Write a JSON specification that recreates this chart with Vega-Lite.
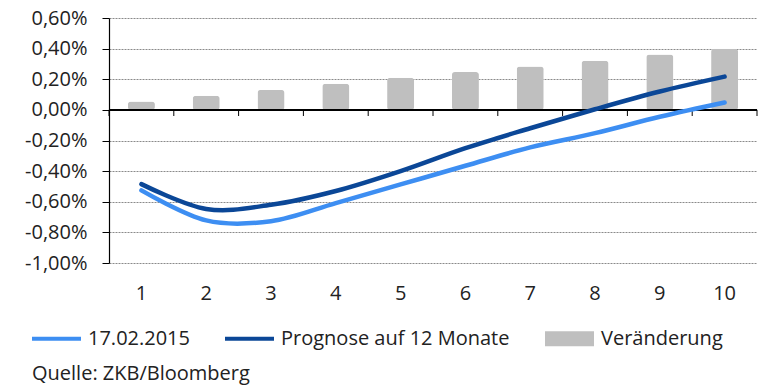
{
  "$schema": "https://vega.github.io/schema/vega-lite/v6.json",
  "width": 648,
  "height": 245,
  "autosize": {"type": "none"},
  "padding": {"left": 109, "top": 18, "right": 12, "bottom": 125},
  "background": "white",
  "title": {
    "text": "Quelle: ZKB/Bloomberg",
    "orient": "bottom",
    "anchor": "start",
    "frame": "group",
    "dx": -77,
    "offset": 15,
    "font": "Open Sans",
    "fontSize": 20,
    "fontWeight": "normal",
    "color": "#222222"
  },
  "data": {
    "values": [
      {"t": 1, "series": "17.02.2015", "value": -0.526},
      {"t": 2, "series": "17.02.2015", "value": -0.722},
      {"t": 3, "series": "17.02.2015", "value": -0.727},
      {"t": 4, "series": "17.02.2015", "value": -0.609},
      {"t": 5, "series": "17.02.2015", "value": -0.487},
      {"t": 6, "series": "17.02.2015", "value": -0.365},
      {"t": 7, "series": "17.02.2015", "value": -0.245},
      {"t": 8, "series": "17.02.2015", "value": -0.152},
      {"t": 9, "series": "17.02.2015", "value": -0.045},
      {"t": 10, "series": "17.02.2015", "value": 0.048},
      {"t": 1, "series": "Prognose auf 12 Monate", "value": -0.485},
      {"t": 2, "series": "Prognose auf 12 Monate", "value": -0.647},
      {"t": 3, "series": "Prognose auf 12 Monate", "value": -0.62},
      {"t": 4, "series": "Prognose auf 12 Monate", "value": -0.53},
      {"t": 5, "series": "Prognose auf 12 Monate", "value": -0.4},
      {"t": 6, "series": "Prognose auf 12 Monate", "value": -0.25},
      {"t": 7, "series": "Prognose auf 12 Monate", "value": -0.12},
      {"t": 8, "series": "Prognose auf 12 Monate", "value": 0.004},
      {"t": 9, "series": "Prognose auf 12 Monate", "value": 0.12},
      {"t": 10, "series": "Prognose auf 12 Monate", "value": 0.217},
      {"t": 1, "series": "Veränderung", "value": 0.055},
      {"t": 2, "series": "Veränderung", "value": 0.092},
      {"t": 3, "series": "Veränderung", "value": 0.13},
      {"t": 4, "series": "Veränderung", "value": 0.17},
      {"t": 5, "series": "Veränderung", "value": 0.209},
      {"t": 6, "series": "Veränderung", "value": 0.247},
      {"t": 7, "series": "Veränderung", "value": 0.284},
      {"t": 8, "series": "Veränderung", "value": 0.321},
      {"t": 9, "series": "Veränderung", "value": 0.362},
      {"t": 10, "series": "Veränderung", "value": 0.4}
    ]
  },
  "encoding": {
    "x": {
      "field": "t",
      "type": "ordinal",
      "scale": {"paddingInner": 0, "paddingOuter": 0},
      "axis": {
        "title": null,
        "domain": false,
        "ticks": false,
        "labelAngle": 0,
        "labelFont": "Open Sans",
        "labelFontSize": 20,
        "labelColor": "#222222",
        "labelBaseline": "middle",
        "labelPadding": 30,
        "grid": false
      }
    },
    "y": {
      "field": "value",
      "type": "quantitative",
      "scale": {"domain": [-1, 0.6], "nice": false, "zero": false},
      "axis": {
        "title": null,
        "values": [-1, -0.8, -0.6, -0.4, -0.2, 0, 0.2, 0.4, 0.6],
        "format": ".2f",
        "labelExpr": "datum.label + '%'",
        "labelFont": "Open Sans",
        "labelFontSize": 20,
        "labelColor": "#222222",
        "labelPadding": 15,
        "tickSize": 7,
        "tickColor": "#000000",
        "domainColor": "#000000",
        "domainWidth": 1.2,
        "grid": true,
        "gridColor": "#8a8a8a",
        "gridDash": [2, 1],
        "gridWidth": 1
      }
    }
  },
  "layer": [
    {
      "transform": [{"filter": "datum.series === 'Veränderung'"}],
      "mark": {"type": "bar", "width": {"band": 0.417}, "cornerRadius": 3},
      "encoding": {
        "color": {
          "field": "series",
          "type": "nominal",
          "scale": {
            "domain": ["17.02.2015", "Prognose auf 12 Monate", "Veränderung"],
            "range": ["#3d8ef2", "#0b4797", "#bfbfbf"]
          },
          "legend": {
            "orient": "none",
            "direction": "horizontal",
            "legendX": -77,
            "legendY": 296,
            "title": null,
            "symbolSize": 2401,
            "symbolType": "M-1,-0.082H1V0.082H-1Z",
            "symbolStrokeWidth": 0,
            "labelOffset": 7,
            "columnPadding": 35,
            "labelLimit": 400,
            "labelFont": "Open Sans",
            "labelFontSize": 20,
            "labelColor": "#222222",
            "padding": 0,
            "encode": {
              "symbols": {
                "update": {
                  "shape": {"signal": "datum.value === 'Veränderung' ? 'M-1,-0.306H1V0.306H-1Z' : 'M-1,-0.082H1V0.082H-1Z'"},
                  "fill": {"scale": "color", "field": "value"},
                  "stroke": {"value": "transparent"},
                  "strokeWidth": {"value": 0},
                  "opacity": {"value": 1}
                }
              }
            }
          }
        }
      }
    },
    {
      "mark": {"type": "rule", "color": "#000000", "strokeWidth": 1.2},
      "encoding": {"y": {"datum": 0}, "x": {"value": 0}, "x2": {"value": 648}}
    },
    {
      "transform": [{"filter": "datum.series === 'Veränderung'"}],
      "mark": {"type": "rule", "color": "#000000", "strokeWidth": 1},
      "encoding": {
        "x": {"field": "t", "type": "ordinal", "bandPosition": 0},
        "y": {"datum": 0},
        "y2": {"datum": -0.04}
      }
    },
    {
      "transform": [{"filter": "datum.series === 'Veränderung' && datum.t === 10"}],
      "mark": {"type": "rule", "color": "#000000", "strokeWidth": 1},
      "encoding": {
        "x": {"field": "t", "type": "ordinal", "bandPosition": 1},
        "y": {"datum": 0},
        "y2": {"datum": -0.04}
      }
    },
    {
      "transform": [{"filter": "datum.series !== 'Veränderung'"}],
      "mark": {"type": "line", "strokeWidth": 4.5, "interpolate": "cardinal", "strokeCap": "round"},
      "encoding": {
        "color": {"field": "series", "type": "nominal"}
      }
    }
  ],
  "config": {
    "view": {"stroke": null},
    "font": "Open Sans",
    "locale": {
      "number": {
        "decimal": ",",
        "thousands": ".",
        "grouping": [3],
        "currency": ["", " €"],
        "minus": "-"
      }
    }
  }
}
